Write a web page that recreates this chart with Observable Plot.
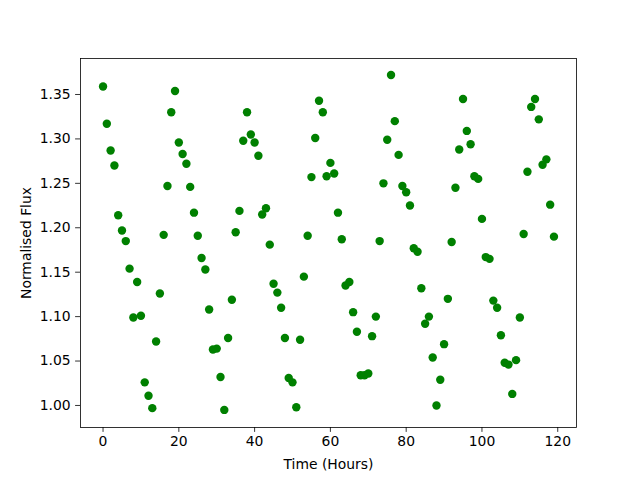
<!DOCTYPE html>
<html>
<head>
<meta charset="utf-8">
<script src="https://cdn.jsdelivr.net/npm/d3@7"></script>
<script src="https://cdn.jsdelivr.net/npm/@observablehq/plot@0.6"></script>
<style>
  html, body { margin: 0; padding: 0; background: #fff; }
  svg { display: block; }
</style>
</head>
<body>
<div id="chart"></div>
<script>
const hours = [
  0, 1, 2, 3, 4, 5, 6, 7, 8, 9, 10, 11, 12, 13, 14, 15, 16, 17, 18, 19,
  20, 21, 22, 23, 24, 25, 26, 27, 28, 29, 30, 31, 32, 33, 34, 35, 36, 37, 38, 39,
  40, 41, 42, 43, 44, 45, 46, 47, 48, 49, 50, 51, 52, 53, 54, 55, 56, 57, 58, 59,
  60, 61, 62, 63, 64, 65, 66, 67, 68, 69, 70, 71, 72, 73, 74, 75, 76, 77, 78, 79,
  80, 81, 82, 83, 84, 85, 86, 87, 88, 89, 90, 91, 92, 93, 94, 95, 96, 97, 98, 99,
  100, 101, 102, 103, 104, 105, 106, 107, 108, 109, 110, 111, 112, 113, 114, 115, 116, 117, 118, 119
];
const flux = [
  1.359, 1.317, 1.287, 1.270, 1.214, 1.197, 1.185, 1.154, 1.099, 1.139,
  1.101, 1.026, 1.011, 0.997, 1.072, 1.126, 1.192, 1.247, 1.330, 1.354,
  1.296, 1.283, 1.272, 1.246, 1.217, 1.191, 1.166, 1.153, 1.108, 1.063,
  1.064, 1.032, 0.995, 1.076, 1.119, 1.195, 1.219, 1.298, 1.330, 1.305,
  1.296, 1.281, 1.215, 1.222, 1.181, 1.137, 1.127, 1.110, 1.076, 1.031,
  1.026, 0.998, 1.074, 1.145, 1.191, 1.257, 1.301, 1.343, 1.330, 1.258,
  1.273, 1.261, 1.217, 1.187, 1.135, 1.139, 1.105, 1.083, 1.034, 1.034,
  1.036, 1.078, 1.100, 1.185, 1.250, 1.299, 1.372, 1.320, 1.282, 1.247,
  1.240, 1.225, 1.177, 1.173, 1.132, 1.092, 1.100, 1.054, 1.000, 1.029,
  1.069, 1.120, 1.184, 1.245, 1.288, 1.345, 1.309, 1.294, 1.258, 1.255,
  1.210, 1.167, 1.165, 1.118, 1.110, 1.079, 1.048, 1.046, 1.013, 1.051,
  1.099, 1.193, 1.263, 1.336, 1.345, 1.322, 1.271, 1.277, 1.226, 1.190
];
const xTicks = [0, 20, 40, 60, 80, 100, 120];
const yTicks = [1.00, 1.05, 1.10, 1.15, 1.20, 1.25, 1.30, 1.35];
const xLabel = "Time (Hours)";
const yLabel = "Normalised Flux";

const data = hours.map((h, i) => ({hour: h, flux: flux[i]}));

const font = "DejaVu Sans, sans-serif";
const fs = 13.9;

const chart = Plot.plot({
  width: 640,
  height: 480,
  marginLeft: 80,
  marginRight: 64,
  marginTop: 58,
  marginBottom: 53,
  style: {fontFamily: font, fontSize: fs + "px", background: "#fff", color: "#000"},
  x: {domain: [-5.95, 124.95]},
  y: {domain: [0.9752, 1.3905]},
  marks: [
    Plot.dot(data, {x: "hour", y: "flux", r: 4.2, fill: "#008000", stroke: "none"}),
    Plot.frame({stroke: "#000", strokeWidth: 0.8}),
    Plot.axisX({ticks: xTicks, tickFormat: d => String(d), tickSize: 4.9, tickPadding: 3.5, label: null,
      fontSize: fs, stroke: "#000", strokeWidth: 0.8, strokeOpacity: 1}),
    Plot.axisY({ticks: yTicks, tickFormat: d3.format(".2f"), tickSize: 4.9, tickPadding: 4.9, label: null,
      fontSize: fs, stroke: "#000", strokeWidth: 0.8, strokeOpacity: 1}),
    Plot.text([xLabel], {frameAnchor: "bottom", dy: 37, text: d => d, fontSize: fs, fill: "#000",
      textAnchor: "middle", lineAnchor: "middle"}),
    Plot.text([yLabel], {frameAnchor: "left", dx: -54, rotate: -90, text: d => d, fontSize: fs, fill: "#000",
      textAnchor: "middle", lineAnchor: "middle"})
  ]
});
document.getElementById("chart").appendChild(chart);
</script>
</body>
</html>
